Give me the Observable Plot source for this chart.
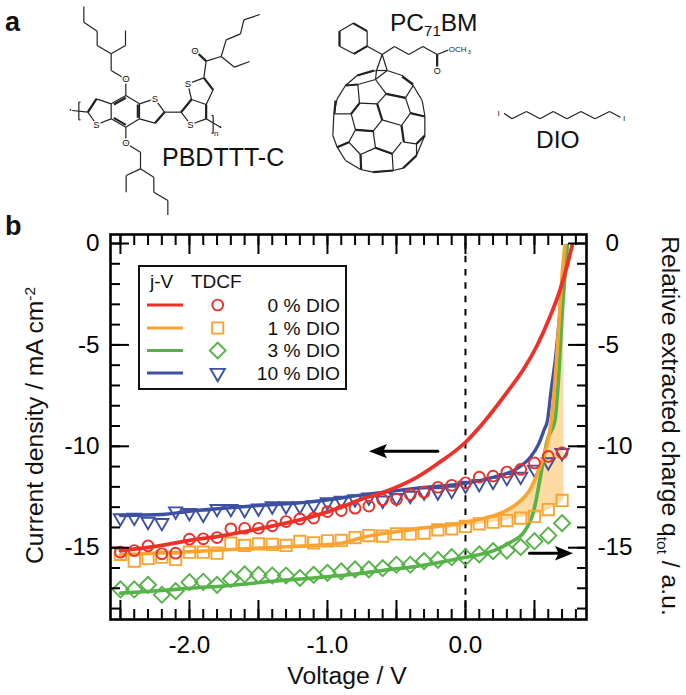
<!DOCTYPE html>
<html><head><meta charset="utf-8">
<script src="https://cdn.jsdelivr.net/npm/d3@7"></script>
<script src="https://cdn.jsdelivr.net/npm/@observablehq/plot@0.6"></script>
<style>
html,body{margin:0;padding:0;background:#fff}
#wrap{position:relative;width:686px;height:695px;overflow:hidden;font-family:"Liberation Sans",Arial,sans-serif}
#wrap svg{position:absolute;background:transparent;max-width:none}
</style></head><body><div id="wrap"></div>
<script>
// TDCF points: voltage (V) and relative extracted charge
const tdcfV = [-2.5,-2.4,-2.3,-2.2,-2.1,-2.0,-1.9,-1.8,-1.7,-1.6,-1.5,-1.4,-1.3,-1.2,-1.1,-1.0,-0.9,-0.8,-0.7,-0.6,-0.5,-0.4,-0.3,-0.2,-0.1,0,0.1,0.2,0.3,0.4,0.5,0.6,0.7];
const tdcf0 = [-15.22,-15.14,-14.91,-15.30,-15.27,-14.58,-14.56,-14.50,-14.07,-14.04,-14.04,-13.92,-13.71,-13.58,-13.54,-13.22,-13.17,-13.05,-12.95,-12.64,-12.61,-12.38,-12.26,-12.02,-11.92,-11.80,-11.52,-11.47,-11.27,-11.14,-10.82,-10.50,-10.32];
const tdcf1 = [-15.33,-15.66,-15.53,-15.47,-15.58,-15.22,-15.22,-15.27,-14.78,-14.89,-14.81,-14.84,-14.89,-14.69,-14.76,-14.66,-14.64,-14.50,-14.40,-14.43,-14.32,-14.32,-14.28,-14.12,-14.07,-13.95,-13.82,-13.74,-13.66,-13.54,-13.46,-13.12,-12.67];
const tdcf3 = [-17.06,-17.06,-16.83,-17.32,-17.14,-16.70,-16.68,-16.83,-16.54,-16.32,-16.34,-16.37,-16.37,-16.49,-16.34,-16.24,-16.17,-16.07,-16.07,-16.01,-15.84,-15.84,-15.66,-15.60,-15.47,-15.47,-15.33,-15.17,-15.14,-14.97,-14.68,-14.40,-13.79];
const tdcf10 = [-13.54,-13.51,-13.71,-13.77,-13.20,-13.28,-13.36,-13.08,-13.08,-13.13,-13.05,-12.95,-12.95,-12.95,-12.89,-12.75,-12.67,-12.60,-12.51,-12.67,-12.54,-12.43,-12.26,-12.26,-12.18,-11.93,-11.85,-11.74,-11.55,-11.49,-11.14,-10.78,-10.32];

// j-V curves
const jv0V = [-2.5,-2.2,-2.0,-1.8,-1.5,-1.2,-0.9,-0.77,-0.59,-0.35,-0.2,0,0.133,0.302,0.423,0.519,0.616,0.688,0.737,0.773];
const jv0J = [-15.15,-14.89,-14.64,-14.45,-14.07,-13.63,-13.0,-12.65,-12.26,-11.52,-10.85,-9.8,-8.81,-7.33,-6.18,-5.03,-3.55,-2.24,-1.08,-0.1];
const jv1V = [-2.5,-2.0,-1.6,-1.25,-0.9,-0.75,-0.35,0,0.254,0.374,0.471,0.543,0.592,0.622,0.652,0.676,0.70,0.72];
const jv1J = [-15.35,-15.2,-15.05,-14.94,-14.78,-14.5,-14.07,-13.74,-13.3,-12.83,-12.1,-10.95,-9.88,-8.75,-6.5,-4.04,-1.58,-0.1];
const jv3V = [-2.5,-2.2,-2.0,-1.7,-1.4,-1.1,-0.8,-0.6,-0.35,0,0.205,0.326,0.423,0.495,0.543,0.592,0.648,0.676,0.70,0.725,0.737];
const jv3J = [-17.24,-17.11,-17.0,-16.86,-16.65,-16.49,-16.3,-16.12,-15.91,-15.47,-15.14,-14.73,-14.24,-13.17,-11.52,-9.71,-8.75,-6.5,-3.55,-1.2,-0.1];
const jv10V = [-2.5,-2.2,-2.0,-1.8,-1.5,-1.2,-0.9,-0.83,-0.59,-0.35,0,0.205,0.374,0.471,0.531,0.568,0.595,0.616,0.652,0.688,0.725,0.737];
const jv10J = [-13.41,-13.36,-13.2,-13.08,-12.92,-12.79,-12.55,-12.47,-12.26,-12.06,-11.82,-11.52,-11.1,-10.53,-9.88,-9.22,-8.7,-7.5,-5.67,-3.2,-0.74,-0.1];

// shaded extraction gap for 1 % DIO
const gapV = [-0.35,0,0.2,0.254,0.374,0.471,0.543,0.592,0.622,0.652,0.676,0.70,0.713];
const gapTop = [-14.07,-13.74,-13.4,-13.3,-12.83,-12.1,-10.95,-9.88,-8.75,-6.5,-4.04,-1.58,-0.8];
const gapBottom = [-14.15,-13.95,-13.75,-13.7,-13.55,-13.42,-13.3,-13.15,-13.05,-12.95,-12.85,-12.72,-12.65];

// axes
const xMajor = [-2.5,-2,-1.5,-1,-0.5,0,0.5];
const xMinor = d3.range(-25,9).map(d=>d/10);
const xLabels = [-2,-1,0];
const yMajor = [0,-5,-10,-15];
const yMinor = d3.range(0,-19,-1);

// arrows: [voltage, value]
const arrowLeftV = [-0.2,-0.6], arrowLeftJ = [-10.24,-10.24];
const arrowRightV = [0.464,0.7], arrowRightJ = [-15.27,-15.27];

// series
const names = ["0 % DIO","1 % DIO","3 % DIO","10 % DIO"];
const colors = {red:"#ee3028",orange:"#f9a431",green:"#55b347",blue:"#3d50a2",fill:"#fddba3"};

const arrowHead = {draw(c,s){const r=Math.sqrt(s/Math.PI);c.moveTo(r,0);c.lineTo(-r,r*0.8);c.lineTo(-r*0.6,0);c.lineTo(-r,-r*0.8);c.closePath();}};

const curve = "monotone-x";
const mk = {strokeWidth:1.9,fill:"none"};
const main = Plot.plot({
  width:686,height:695,marginLeft:110,marginRight:100,marginTop:234,marginBottom:76,
  style:{fontFamily:"Liberation Sans, Arial, sans-serif",background:"transparent",color:"#000"},
  x:{domain:[-2.572,0.877]},
  y:{domain:[-18.54,0.444]},
  marks:[
    Plot.areaY(gapV,{x:gapV,y1:gapBottom,y2:gapTop,fill:colors.fill,curve}),
    Plot.ruleX([0],{stroke:"#000",strokeWidth:2,strokeDasharray:"6.5,6.8",y1:-18,y2:0.3}),
    Plot.line(jv10V,{x:jv10V,y:jv10J,stroke:colors.blue,strokeWidth:3.4,curve}),
    Plot.dot(tdcfV,{x:tdcfV,y:tdcf10,symbol:"triangle",rotate:180,r:4.9,stroke:colors.blue,...mk}),
    Plot.dot(tdcfV,{x:tdcfV,y:tdcf3,symbol:"square",rotate:45,r:6.4,stroke:colors.green,...mk}),
    Plot.line(jv3V,{x:jv3V,y:jv3J,stroke:colors.green,strokeWidth:3.6,curve}),
    Plot.dot(tdcfV,{x:tdcfV,y:tdcf1,symbol:"square",r:6.4,stroke:colors.orange,...mk}),
    Plot.line(jv1V,{x:jv1V,y:jv1J,stroke:colors.orange,strokeWidth:3.6,curve}),
    Plot.dot(tdcfV,{x:tdcfV,y:tdcf0,r:5.4,stroke:colors.red,...mk}),
    Plot.line(jv0V,{x:jv0V,y:jv0J,stroke:colors.red,strokeWidth:3.8,curve}),
    Plot.line(arrowLeftV,{x:arrowLeftV,y:arrowLeftJ,stroke:"#000",strokeWidth:3}),
    Plot.dot(arrowLeftV.slice(1),{x:[-0.634],y:[-10.24],symbol:arrowHead,rotate:180,r:9,fill:"#000"}),
    Plot.line(arrowRightV,{x:arrowRightV,y:arrowRightJ,stroke:"#000",strokeWidth:3}),
    Plot.dot(arrowRightV.slice(1),{x:[0.714],y:[-15.27],symbol:arrowHead,r:9,fill:"#000"}),
    // inward ticks
    Plot.axisX({anchor:"bottom",ticks:xMinor,tickSize:-10,tickFormat:()=>"",label:null,strokeWidth:2}),
    Plot.axisX({anchor:"bottom",ticks:xMajor,tickSize:-19,tickFormat:()=>"",label:null,strokeWidth:2}),
    Plot.axisX({anchor:"top",ticks:xMinor,tickSize:-10,tickFormat:()=>"",label:null,strokeWidth:2}),
    Plot.axisX({anchor:"top",ticks:xMajor,tickSize:-19,tickFormat:()=>"",label:null,strokeWidth:2}),
    Plot.axisY({anchor:"left",ticks:yMinor,tickSize:-10,tickFormat:()=>"",label:null,strokeWidth:2}),
    Plot.axisY({anchor:"left",ticks:yMajor,tickSize:-19,tickFormat:()=>"",label:null,strokeWidth:2}),
    Plot.axisY({anchor:"right",ticks:yMinor,tickSize:-10,tickFormat:()=>"",label:null,strokeWidth:2}),
    Plot.axisY({anchor:"right",ticks:yMajor,tickSize:-19,tickFormat:()=>"",label:null,strokeWidth:2}),
    // tick labels
    Plot.axisX({anchor:"bottom",ticks:xLabels,tickSize:0,tickPadding:16,fontSize:24.3,tickFormat:d=>d.toFixed(1),label:null}),
    Plot.axisY({anchor:"left",ticks:yMajor,tickSize:0,tickPadding:11,fontSize:24.3,tickFormat:d=>String(d),label:null}),
    Plot.axisY({anchor:"right",ticks:yMajor,tickSize:0,tickPadding:11,fontSize:24.3,tickFormat:d=>d===0?"\u20040":String(d),label:null}),
    Plot.frame({stroke:"#000",strokeWidth:2.6})
  ]
});
main.style.left="0";main.style.top="0";
document.getElementById("wrap").appendChild(main);

// ---- molecules (coordinates, in crop units) ----
const polyChains = [
  [[70,18],[70,65],[110,92],[110,135],[152,160],[195,135],[195,90]],
  [[152,160],[152,210],[196,236],[196,285]],
  [[196,285],[237,310],[237,355],[196,380],[152,355],[152,310],[196,285]],
  [[152,310],[108,295],[82,335],[108,372],[152,355]],
  [[237,310],[283,295],[312,335],[283,368],[237,355]],
  [[196,380],[196,428],[240,455],[240,505],[197,525],[197,575]],
  [[240,505],[280,530],[280,575],[322,600],[322,645]],
  [[312,335],[362,335],[393,297],[437,312],[437,355],[390,372],[362,335]],
  [[393,297],[382,250],[430,232],[458,268],[437,312]],
  [[430,232],[437,182],[403,150]],
  [[437,182],[482,168],[497,118],[540,100],[550,58],[598,42]],
  [[482,168],[522,200],[567,183]],
  [[35,330],[82,335]],[[437,355],[480,380]],
  [[60,305],[55,305],[55,358],[60,358]],
  [[453,345],[458,345],[458,398],[453,398]]
];
const polyDoubles = [
  [[160,312],[196,292]],[[232,312],[232,352]],[[160,352],[196,373]],
  [[108,295],[82,335]],[[312,335],[283,368]],[[393,297],[362,335]],
  [[437,312],[437,355]],[[430,232],[458,268]],[[437,182],[403,150]]
];
const polyAtoms = [["O",196,236],["O",196,428],["S",283,295],["S",108,372],["S",382,250],["S",390,372],["O",403,150]];

const pcbmChains = [
  [[98,38],[140,62],[140,107],[100,130],[57,107],[57,62],[98,38]],
  [[140,107],[185,132],[222,108],[265,132],[307,108],[350,132],[385,118]],
  [[350,132],[350,175]],
  [[185,132],[168,180],[200,180],[185,132]],
  [[168,180],[110,195],[75,225],[50,265],[40,310],[37,375],[50,410],[75,450],[120,477],[158,485],[218,480],[248,473],[288,435],[313,375],[313,315],[305,270],[278,225],[245,195],[200,180],[165,207],[168,180]],
  [[165,207],[112,222],[75,225]],[[112,222],[117,278],[92,310],[40,310]],
  [[165,207],[197,250],[170,280],[117,278]],
  [[92,310],[105,358],[158,362],[185,328],[170,280]],
  [[197,250],[255,262],[278,225]],[[255,262],[270,308],[243,345],[185,328]],
  [[270,308],[313,318]],
  [[243,345],[250,395],[288,400],[313,375]],
  [[105,358],[85,395],[50,410]],[[85,395],[120,432],[165,412],[158,362]],
  [[165,412],[215,430],[243,395]],[[120,432],[122,477]],[[215,430],[218,480]],
  [[288,400],[288,435]]
];
const pcbmDoubles = [
  [[98,38],[140,62]],[[140,107],[100,130]],[[57,107],[57,62]],[[350,132],[350,175]],
  [[110,195],[160,180]],[[245,198],[278,222]],[[112,222],[75,225]],[[45,270],[42,308]],
  [[117,278],[92,310]],[[197,250],[255,262]],[[270,308],[313,318]],[[185,328],[170,280]],
  [[105,358],[158,362]],[[243,345],[250,395]],[[288,400],[313,375]],[[85,395],[50,410]],
  [[165,412],[215,430]],[[120,432],[122,477]],[[158,485],[218,480]],[[248,473],[288,435]]
];
const pcbmAtoms = [["O",350,183]];

const dioChains = [[[1145,338],[1163,355],[1196,333],[1227,355],[1257,333],[1288,355],[1320,333],[1352,355],[1385,333],[1410,350]]];
const dioAtoms = [["I",1133,339],["I",1418,353]];

function segs(list){return list.flatMap(ch=>d3.pairs(ch).map(([a,b])=>({x1:a[0],y1:a[1],x2:b[0],y2:b[1]})));}
function molecule(chains,doubles,atoms,box,dom,extra=[]){
  const p = Plot.plot({
    width:box[2],height:box[3],margin:0,
    style:{fontFamily:"Liberation Sans, Arial, sans-serif",background:"transparent"},
    x:{domain:[0,dom[0]],axis:null},y:{domain:[dom[1],0],axis:null},
    marks:[
      Plot.link(segs(chains),{x1:"x1",y1:"y1",x2:"x2",y2:"y2",stroke:"#222",strokeWidth:1.2}),
      Plot.link(segs(doubles),{x1:"x1",y1:"y1",x2:"x2",y2:"y2",stroke:"#222",strokeWidth:2.2}),
      Plot.text(atoms,{x:d=>d[1],y:d=>d[2],text:d=>d[0],fontSize:box[4],fill:"#111",stroke:"#fff",strokeWidth:3}),
      ...extra
    ]
  });
  p.style.left=box[0]+"px";p.style.top=box[1]+"px";
  document.getElementById("wrap").appendChild(p);
}
const polyDots=[[30,328],[480,380]], polyN=[["n",467,400]];
molecule(polyChains,polyDoubles,polyAtoms,[60,0,240,215,9.5],[720,645],[
  Plot.dot(polyDots,{x:d=>d[0],y:d=>d[1],r:0.9,fill:"#222"}),
  Plot.text(polyN,{x:d=>d[1],y:d=>d[2],text:d=>d[0],fontSize:8,fill:"#111"})
]);
const ochLabel=[["OCH",385,118]], ochSub=[["3",442,124]];
molecule(pcbmChains,pcbmDoubles,pcbmAtoms,[320,10,170,215,9],[510,645],[
  Plot.text(ochLabel,{x:d=>d[1],y:d=>d[2],text:d=>d[0],fontSize:8,textAnchor:"start",fill:"#222",stroke:"#fff",strokeWidth:2}),
  Plot.text(ochSub,{x:d=>d[1],y:d=>d[2],text:d=>d[0],fontSize:5.5,textAnchor:"start",fill:"#222"})
]);
molecule(dioChains,[],dioAtoms,[0,0,686,215,8],[1560,645]);

// ---- titles, panel letters and legend ----
const ann=d3.select("#wrap").append("svg").attr("width",686).attr("height",695)
  .style("left","0").style("top","0").style("font-family",'"Liberation Sans",Arial,sans-serif');
function label(x,y,fs,parts,rot=0,anchor="start",weight="normal"){
  const t=ann.append("text").attr("transform",`translate(${x},${y}) rotate(${rot})`).attr("font-size",fs)
    .attr("text-anchor",anchor).attr("font-weight",weight).attr("fill","#111");
  parts.forEach(p=>{
    if(typeof p==="string"){t.append("tspan").text(p);}
    else{t.append("tspan").attr("font-size",p.fs).attr("dy",p.dy).text(p.t);}
  });
  return t;
}
label(5,31,27,["a"],0,"start","bold");
label(5,235,27,["b"],0,"start","bold");
label(162,166,25,["PBDTTT-C"]);
label(390,31,24.5,["PC",{t:"71",fs:15,dy:5},{t:"BM",fs:24.5,dy:-5}]);
label(536,148.3,24.5,["DIO"]);
label(347,684,24.7,["Voltage / V"],0,"middle");
label(43,425.5,24.7,["Current density / mA cm",{t:"-2",fs:15.5,dy:-8}],-90,"middle");
label(661.5,426,24.7,["Relative extracted charge q",{t:"tot",fs:15.5,dy:5},{t:" / a.u.",fs:24.7,dy:-5}],90,"middle");

ann.append("rect").attr("x",139).attr("y",266).attr("width",207).attr("height",123).attr("fill","#fff").attr("stroke","#111").attr("stroke-width",2);
label(150,288,19,["j-V"]);
label(191,288,19,["TDCF"]);
const legendColors=[colors.red,colors.orange,colors.green,colors.blue];
const legendY=[305,328,350.5,373];
const legendSym=[[d3.symbolCircle,91,0],[d3.symbolSquare,125,0],[d3.symbolSquare,125,45],[d3.symbolTriangle,88,180]];
names.forEach((n,i)=>{
  ann.append("line").attr("x1",147).attr("x2",183).attr("y1",legendY[i]).attr("y2",legendY[i]).attr("stroke",legendColors[i]).attr("stroke-width",3);
  ann.append("path").attr("d",d3.symbol(legendSym[i][0],legendSym[i][1])())
    .attr("transform",`translate(217.7,${legendY[i]}) rotate(${legendSym[i][2]})`)
    .attr("fill","none").attr("stroke",legendColors[i]).attr("stroke-width",1.9);
  label(340,legendY[i]+6.8,19.2,[n],0,"end");
});
</script></body></html>
